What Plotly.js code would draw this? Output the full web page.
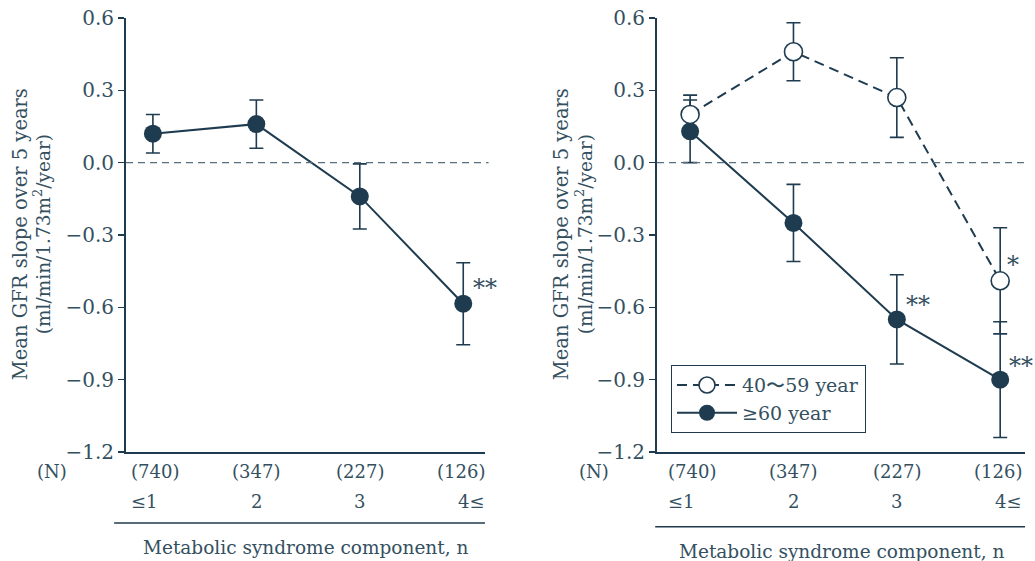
<!DOCTYPE html>
<html>
<head>
<meta charset="utf-8">
<script src="https://cdn.plot.ly/plotly-3.0.1.min.js"></script>
<style>html,body{margin:0;padding:0;background:#fff;}#chart{width:1035px;height:561px;}</style>
</head>
<body>
<div id="chart"></div>
<script>
// ---- data ----
const categories = [0, 1, 2, 3];
const nLabels = ['(740)', '(347)', '(227)', '(126)'];
const compLabels = ['≤1', '2', '3', '4≤'];
const yTicks = [-1.2, -0.9, -0.6, -0.3, 0.0, 0.3, 0.6];
const yTitle1 = 'Mean GFR slope over 5 years';
const yTitle2 = '(ml/min/1.73m<sup>2</sup>/year)';
const xTitle = 'Metabolic syndrome component, n';

// left panel: all subjects
const allMean = [0.12, 0.16, -0.14, -0.585];
const allErr  = [0.08, 0.10, 0.135, 0.17];

// right panel: by age group
const midName = '40〜59 year';
const midMean = [0.20, 0.46, 0.27, -0.49];
const midErr  = [0.08, 0.12, 0.165, 0.22];
const oldName = '≥60 year';
const oldMean = [0.13, -0.25, -0.65, -0.90];
const oldErr  = [0.13, 0.16, 0.185, 0.24];

// significance marks: [panel axis suffix, series values, index, text, xshift, yshift]
const sigMarks = [
  ['', allMean, 3, '**', 22, 16],
  ['2', oldMean, 2, '**', 21, 14],
  ['2', midMean, 3, '*', 13, 16],
  ['2', oldMean, 3, '**', 21, 14]
];

// ---- style ----
const C = '#1e3b4f';
const T = '#34505f';
const FONT = 'DejaVu Serif, Liberation Serif, serif';

function errBar(arr) {
  return {type: 'data', array: arr, visible: true, color: C, thickness: 1.6, width: 7};
}

const traces = [
  {x: categories, y: allMean, xaxis: 'x', yaxis: 'y', mode: 'lines+markers', showlegend: false,
   line: {color: C, width: 2}, marker: {size: 18, color: C}, error_y: errBar(allErr)},
  {x: categories, y: oldMean, xaxis: 'x2', yaxis: 'y2', mode: 'lines+markers', name: oldName, legendrank: 2,
   line: {color: C, width: 2}, marker: {size: 18, color: C}, error_y: errBar(oldErr)},
  {x: categories, y: midMean, xaxis: 'x2', yaxis: 'y2', mode: 'lines+markers', name: midName, legendrank: 1,
   line: {color: C, width: 2, dash: '10px,6px'},
   marker: {size: 18, color: '#ffffff', line: {color: C, width: 1.6}}, error_y: errBar(midErr)}
];

const xBase = {showticklabels: false, ticks: '', showline: true, linecolor: C, linewidth: 2,
  showgrid: false, zeroline: false, fixedrange: true};
const yBase = {range: [-1.2, 0.6], tickvals: yTicks, tickformat: '.1f', ticks: 'outside', ticklen: 6,
  tickwidth: 1.5, tickcolor: C, showline: true, linecolor: C, linewidth: 2, showgrid: false,
  zeroline: false, fixedrange: true, tickfont: {family: FONT, size: 20, color: T}};

const annotations = [];
// [axis, (N) x, title line1 x, title line2 x, x-title y, underline shift]
const panels = [['x', -0.0823, -0.1179, -0.0934, -0.219, -24], ['x2', 0.5206, 0.4839, 0.5095, -0.23, -24]];
const anchors = ['left', 'center', 'center', 'right'];
const shiftSign = [1, 0, 0, -1];
panels.forEach(function (p) {
  const ax = p[0];
  annotations.push({xref: 'paper', yref: 'paper', x: p[1], y: -0.046, text: '(N)', showarrow: false,
    xanchor: 'center', yanchor: 'middle', font: {family: FONT, size: 18, color: T}});
  categories.forEach(function (c, i) {
    annotations.push({xref: ax, yref: 'paper', x: c, y: -0.046, text: nLabels[i], showarrow: false,
      xanchor: anchors[i], xshift: p[5] * shiftSign[i], yanchor: 'middle', font: {family: FONT, size: 18, color: T}});
    annotations.push({xref: ax, yref: 'paper', x: c, y: -0.115, text: compLabels[i], showarrow: false,
      xanchor: anchors[i], xshift: p[5] * shiftSign[i], yanchor: 'middle', font: {family: FONT, size: 18, color: T}});
  });
  annotations.push({xref: ax + ' domain', yref: 'paper', x: 0.5, y: p[4], text: xTitle,
    showarrow: false, xanchor: 'center', yanchor: 'middle', font: {family: FONT, size: 18.5, color: T}});
  annotations.push({xref: 'paper', yref: 'paper', x: p[2], y: 0.502, textangle: -90,
    text: yTitle1, showarrow: false, xanchor: 'center', yanchor: 'middle',
    font: {family: FONT, size: 19.5, color: T}});
  annotations.push({xref: 'paper', yref: 'paper', x: p[3], y: 0.502, textangle: -90,
    text: yTitle2, showarrow: false, xanchor: 'center', yanchor: 'middle',
    font: {family: FONT, size: 18.5, color: T}});
});
sigMarks.forEach(function (s) {
  annotations.push({xref: 'x' + s[0], yref: 'y' + s[0], x: categories[s[2]], y: s[1][s[2]], text: s[3],
    showarrow: false, xshift: s[4], yshift: s[5], xanchor: 'center', yanchor: 'middle',
    font: {family: FONT, size: 24, color: T}});
});

const shapes = [
  {type: 'line', xref: 'x domain', yref: 'y', x0: 0, x1: 1.01, y0: 0, y1: 0,
   line: {color: '#5a6e7c', width: 1.2, dash: '7px,5px'}},
  {type: 'line', xref: 'x2 domain', yref: 'y2', x0: 0, x1: 1, y0: 0, y1: 0,
   line: {color: '#5a6e7c', width: 1.2, dash: '7px,5px'}},
  {type: 'line', xref: 'x domain', yref: 'paper', x0: -0.033, x1: 1, y0: -0.1636, y1: -0.1636,
   line: {color: C, width: 1.5}},
  {type: 'line', xref: 'x2 domain', yref: 'paper', x0: -0.005, x1: 1, y0: -0.172, y1: -0.172,
   line: {color: C, width: 1.5}}
];

const layout = {
  width: 1035, height: 561,
  margin: {l: 126, r: 10, t: 18, b: 109},
  paper_bgcolor: '#ffffff', plot_bgcolor: '#ffffff',
  xaxis: Object.assign({}, xBase, {domain: [0, 0.3993], range: [-0.26, 3.21], anchor: 'y'}),
  yaxis: Object.assign({}, yBase, {anchor: 'x'}),
  xaxis2: Object.assign({}, xBase, {domain: [0.5907, 1], range: [-0.32, 3.24], anchor: 'y2'}),
  yaxis2: Object.assign({}, yBase, {anchor: 'x2'}),
  showlegend: true,
  legend: {x: 0.606, y: 0.2005, xanchor: 'left', yanchor: 'top', bgcolor: '#ffffff',
    bordercolor: C, borderwidth: 1.2, font: {family: FONT, size: 19, color: T},
    itemwidth: 60, tracegroupgap: 2},
  annotations: annotations,
  shapes: shapes
};

Plotly.newPlot('chart', traces, layout, {displayModeBar: false, staticPlot: true});
</script>
</body>
</html>
